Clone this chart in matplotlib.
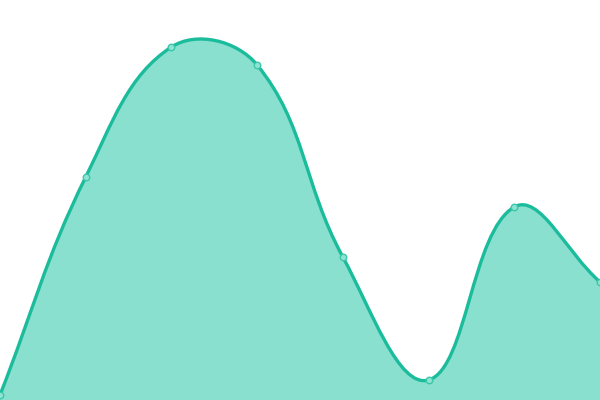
import numpy as np
import matplotlib
matplotlib.use("Agg")
import matplotlib.pyplot as plt
from matplotlib.path import Path
from matplotlib.patches import PathPatch

# data
x_vals = [0, 1, 2, 3, 4, 5, 6, 7]
y_vals = [5, 223, 353, 335, 143, 20, 193, 118]

line_color = '#1abc9c'
fill_color = '#8ae0cf'
tension = 0.4

fig = plt.figure(figsize=(6, 4), dpi=100)
ax = fig.add_axes([0, 0, 1, 1])
ax.set_xlim(0, 7)
ax.set_ylim(0, 400)
ax.axis('off')

# work in pixel space so the spline looks like the chart.js one
pts = ax.transData.transform(np.column_stack([x_vals, y_vals]))
n = len(pts)
cp_prev = []
cp_next = []
for i in range(n):
    cur = pts[i]
    prev = pts[i - 1] if i > 0 else cur
    nxt = pts[i + 1] if i < n - 1 else cur
    d01 = np.hypot(*(cur - prev))
    d12 = np.hypot(*(nxt - cur))
    tot = d01 + d12
    s01 = d01 / tot if tot else 0
    s12 = d12 / tot if tot else 0
    cp_prev.append(cur - tension * s01 * (nxt - prev))
    cp_next.append(cur + tension * s12 * (nxt - prev))

verts = [pts[0]]
codes = [Path.MOVETO]
for i in range(n - 1):
    verts += [cp_next[i], cp_prev[i + 1], pts[i + 1]]
    codes += [Path.CURVE4] * 3

inv = ax.transData.inverted()
curve_data = inv.transform(np.array(verts))

# filled area
base = ax.transData.transform([[x_vals[-1], 0], [x_vals[0], 0]])
fill_verts = np.vstack([np.array(verts), base, pts[0]])
fill_codes = codes + [Path.LINETO, Path.LINETO, Path.CLOSEPOLY]
fill_path = Path(inv.transform(fill_verts), fill_codes)
ax.add_patch(PathPatch(fill_path, facecolor=fill_color, edgecolor='none', zorder=1))

line_path = Path(curve_data, codes)
ax.add_patch(PathPatch(line_path, facecolor='none', edgecolor=line_color, lw=2.4, zorder=2))

ax.scatter(x_vals, y_vals, s=22, facecolor='#8ee3d2', edgecolor='#3cc7aa', linewidth=1.0, zorder=3, clip_on=False)

fig.savefig('out.png', dpi=100)
